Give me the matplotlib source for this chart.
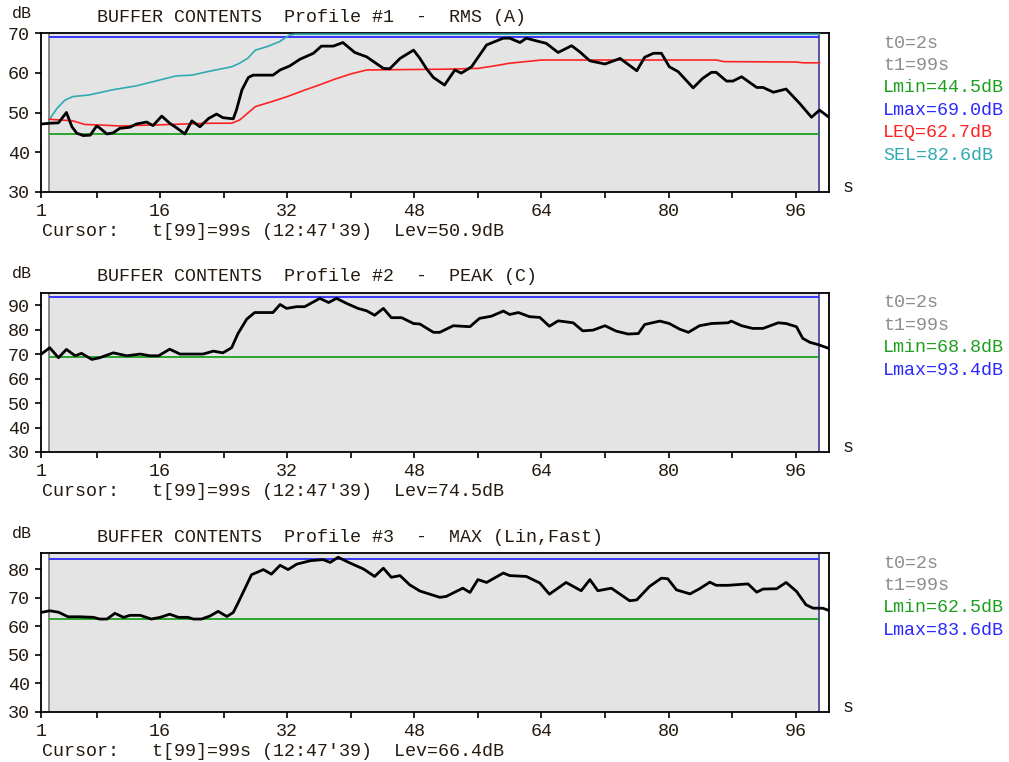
import matplotlib
matplotlib.use("Agg")
import matplotlib.pyplot as plt
import numpy as np

plt.rcParams['font.family'] = ['Liberation Mono', 'DejaVu Sans Mono']
plt.rcParams['font.size'] = 13.2

t_rms = [1, 2.1, 3.2, 4.2, 4.9, 5.5, 6.3, 7.2, 8.0, 8.4, 9.3, 10.1, 10.9, 12.2, 13.0, 14.3,
         15.1, 16.2, 17.2, 18.1, 19.1, 20.0, 21.0, 22.1, 23.1, 23.9, 25.2, 25.6, 26.3, 27.1,
         27.7, 30.2, 31.1, 32.3, 33.6, 35.3, 36.3, 37.8, 39.0, 40.5, 42.0, 44.1, 44.9, 46.2,
         47.9, 48.7, 49.5, 50.4, 51.8, 53.1, 53.9, 55.2, 57.1, 59.2, 60.0, 61.3, 62.1, 63.2,
         64.6, 66.1, 67.8, 68.8, 70.1, 72.0, 73.9, 76.0, 77.0, 78.1, 79.1, 80.1, 81.2, 83.1,
         84.3, 85.4, 86.0, 87.3, 88.1, 89.2, 91.1, 91.9, 93.2, 94.8, 96.5, 98.0, 99.0, 100.2]
rms = [47.1, 47.3, 47.4, 50.0, 46.4, 44.8, 44.2, 44.3, 46.6, 46.1, 44.6, 44.9, 46.0, 46.3,
       47.1, 47.6, 46.7, 49.1, 47.3, 46.1, 44.6, 47.9, 46.4, 48.5, 49.6, 48.7, 48.4, 50.6,
       55.7, 58.8, 59.4, 59.4, 60.7, 61.7, 63.4, 64.9, 66.7, 66.7, 67.6, 65.1, 64.0, 61.1,
       61.0, 63.6, 65.7, 63.6, 61.1, 58.8, 56.9, 60.7, 59.9, 61.5, 67.0, 68.7, 68.7, 67.6,
       68.7, 68.1, 67.4, 65.1, 66.8, 65.3, 63.0, 62.2, 63.6, 60.5, 63.9, 64.9, 64.9, 61.5,
       60.3, 56.2, 58.6, 60.1, 60.1, 57.9, 57.9, 59.0, 56.3, 56.3, 55.1, 55.9, 52.3, 48.8,
       50.6, 48.8]

t_leq = [2, 5, 6.5, 9, 11, 14, 16, 22, 25, 26, 27, 28, 30, 32, 34, 36, 38, 40, 42, 52, 56,
         58, 60, 62, 64, 86, 87, 96, 97, 99]
leq = [48.3, 47.9, 47.0, 46.8, 46.6, 46.8, 46.9, 47.3, 47.3, 48.1, 49.8, 51.5, 52.7, 54.0,
       55.5, 56.9, 58.4, 59.7, 60.7, 60.9, 61.1, 61.7, 62.4, 62.8, 63.2, 63.2, 62.8, 62.7,
       62.5, 62.5]

t_sel = [2, 3, 4, 5, 7, 10, 13, 16, 18, 20, 22, 24, 25, 26, 27, 28, 29.5, 31, 32.3, 33, 99]
sel = [48.1, 51.0, 53.1, 54.0, 54.4, 55.7, 56.7, 58.2, 59.2, 59.4, 60.3, 61.1, 61.5, 62.4,
       63.6, 65.7, 66.6, 67.8, 69.5, 69.7, 69.7]

t_peak = [1, 2.1, 3.2, 4.2, 5.3, 6.1, 7.4, 8.4, 10.1, 11.8, 13.5, 14.7, 15.8, 17.2, 18.5,
          21.4, 22.7, 23.9, 25.0, 25.8, 26.9, 27.9, 30.2, 31.1, 31.9, 33.2, 34.2, 36.1, 37.2,
          38.2, 39.5, 40.9, 42.0, 43.0, 44.1, 45.1, 46.4, 47.9, 48.7, 50.4, 51.2, 52.9, 55.0,
          56.2, 57.7, 59.2, 60.0, 61.1, 62.5, 63.8, 65.0, 66.1, 68.0, 69.2, 70.5, 72.0, 73.4,
          74.9, 76.2, 77.0, 78.9, 80.1, 81.4, 82.5, 83.9, 85.4, 87.5, 87.9, 89.2, 90.6, 91.9,
          93.8, 94.8, 96.1, 96.9, 97.8, 99.0, 100.2]
peak = [70.0, 72.7, 68.6, 72.0, 69.4, 70.4, 67.9, 68.6, 70.6, 69.4, 70.1, 69.4, 69.4, 72.1,
        70.1, 70.1, 71.3, 70.6, 72.7, 78.5, 84.4, 87.1, 87.1, 90.4, 88.8, 89.5, 89.5, 92.9,
        91.2, 92.9, 90.8, 88.8, 87.8, 86.0, 88.8, 85.0, 85.0, 82.6, 82.4, 79.0, 79.0, 81.7,
        81.3, 84.7, 85.6, 87.7, 86.3, 87.1, 85.4, 85.1, 81.5, 83.7, 82.9, 79.6, 79.9, 81.7,
        79.5, 78.3, 78.5, 82.2, 83.6, 82.6, 80.3, 79.0, 81.7, 82.6, 82.9, 83.6, 81.7, 80.6,
        80.6, 82.9, 82.6, 81.3, 76.5, 74.9, 73.8, 72.4]

t_max = [1, 2.1, 3.2, 4.4, 5.9, 7.6, 8.4, 9.3, 10.3, 11.4, 12.2, 13.5, 14.9, 16.0, 17.2,
         18.3, 19.5, 20.2, 21.2, 22.3, 23.3, 24.4, 25.2, 25.8, 26.9, 27.5, 29.0, 30.0, 31.1,
         32.1, 33.2, 34.9, 36.5, 37.4, 38.4, 39.9, 41.6, 43.0, 44.1, 45.1, 46.2, 47.4, 48.7,
         51.2, 52.0, 54.1, 55.0, 56.0, 57.1, 59.2, 60.0, 62.1, 63.8, 65.0, 67.1, 69.0, 70.1,
         71.1, 72.8, 75.1, 76.0, 77.6, 79.1, 79.9, 81.0, 82.7, 83.9, 85.2, 86.0, 87.5, 90.0,
         91.1, 91.9, 93.6, 94.8, 96.1, 97.3, 98.2, 99.4, 100.2]
maxf = [64.8, 65.4, 64.9, 63.3, 63.3, 63.1, 62.5, 62.5, 64.5, 63.1, 63.8, 63.8, 62.5, 63.1,
        64.2, 63.1, 63.1, 62.5, 62.5, 63.6, 65.2, 63.4, 64.8, 68.1, 74.5, 78.0, 79.8, 78.2,
        81.3, 79.8, 81.7, 82.9, 83.3, 82.3, 84.1, 82.1, 80.0, 77.4, 80.3, 77.1, 77.7, 74.5,
        72.3, 70.1, 70.4, 73.3, 71.8, 76.3, 75.3, 78.6, 77.7, 77.4, 75.1, 71.2, 75.3, 72.4,
        76.3, 72.4, 73.3, 68.9, 69.2, 73.9, 76.8, 76.6, 72.7, 71.3, 73.1, 75.4, 74.3, 74.3,
        74.8, 71.9, 73.0, 73.1, 75.3, 72.2, 67.5, 66.3, 66.3, 65.5]

titles = ["BUFFER CONTENTS  Profile #1  -  RMS (A)",
          "BUFFER CONTENTS  Profile #2  -  PEAK (C)",
          "BUFFER CONTENTS  Profile #3  -  MAX (Lin,Fast)"]
lmins = [44.5, 68.8, 62.5]
lmaxs = [69.0, 93.4, 83.6]
levs = [50.9, 74.5, 66.4]
ylims = [(30, 70), (30, 95.1), (30, 85.6)]
t0, t1 = 2, 99
x_ticks = [1, 16, 32, 48, 64, 80, 96]
x_minor = [8, 24, 40, 56, 72, 88]

GREY = '#8c8c8c'
GREEN = '#1ea01e'
BLUE = '#2a2aff'
RED = '#ff2222'
TEAL = '#30aab2'
TXT = '#241a10'

W, H = 1009, 762
fig = plt.figure(figsize=(W / 100, H / 100), dpi=100)


def px(x, y):
    return x / W, 1 - y / H


panel_top = [33, 293, 553]
ax_h = 159
series = [[(t_rms, rms)], [(t_peak, peak)], [(t_max, maxf)]]

for i in range(3):
    top = panel_top[i]
    l, b = px(41, top + ax_h)
    ax = fig.add_axes([l, b, (829 - 41) / W, ax_h / H])
    ax.set_xlim(1, 100.2)
    ax.set_ylim(*ylims[i])
    ax.set_facecolor('white')
    ax.axvspan(t0, t1, color='#e4e4e4', zorder=0, lw=0)
    ax.axvline(t0, color='#808080', lw=1.3, zorder=1)
    ax.axvline(t1, color='#4a4a9a', lw=1.3, zorder=1)
    ax.hlines(lmins[i], t0, t1, color=GREEN, lw=1.3, zorder=2)
    ax.hlines(lmaxs[i], t0, t1, color=BLUE, lw=1.3, zorder=2)
    if i == 0:
        ax.plot(t_sel, sel, color=TEAL, lw=1.2, zorder=3)
        ax.plot(t_leq, leq, color=RED, lw=1.2, zorder=3)
    for tx, vy in series[i]:
        ax.plot(tx, vy, color='black', lw=2.0, zorder=4)

    ax.set_xticks(x_ticks)
    ax.set_xticks(x_minor, minor=True)
    ax.set_yticks(np.arange(30, ylims[i][1] + 0.01, 10))
    ax.tick_params(axis='both', which='both', direction='out', length=4, width=1.2,
                   colors='black', labelcolor=TXT, labelsize=13.2)
    ax.tick_params(axis='x', pad=4)
    ax.tick_params(axis='y', pad=4)
    for s in ax.spines.values():
        s.set_linewidth(1.3)

    # header, unit labels and cursor line
    fig.text(*px(12, top - 20), "dB", fontsize=12, color=TXT, va='center')
    fig.text(*px(97, top - 16), titles[i], color=TXT, va='center')
    fig.text(*px(843, top + ax_h - 4), "s", color=TXT, va='center')
    fig.text(*px(42, top + ax_h + 39),
             "Cursor:   t[99]=99s (12:47'39)  Lev=%.1fdB" % levs[i],
             color=TXT, va='center')

    legend = [("t0=%ds" % t0, GREY), ("t1=%ds" % t1, GREY),
              ("Lmin=%.1fdB" % lmins[i], GREEN), ("Lmax=%.1fdB" % lmaxs[i], BLUE)]
    if i == 0:
        legend += [("LEQ=62.7dB", RED), ("SEL=82.6dB", TEAL)]
    for k, (txt, c) in enumerate(legend):
        fig.text(*px(883, top + 10 + k * 22.4), txt, color=c, va='center')

fig.savefig('out.png', dpi=100)
